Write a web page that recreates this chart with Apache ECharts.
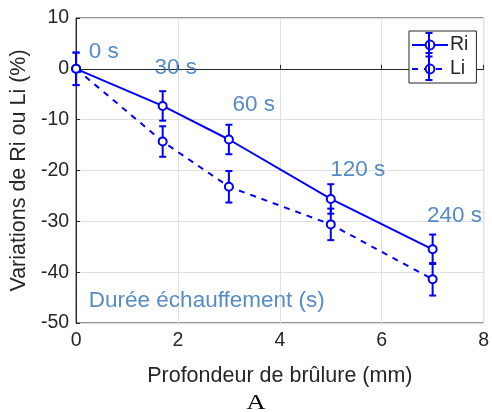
<!DOCTYPE html>
<html><head><meta charset="utf-8">
<script src="https://cdn.jsdelivr.net/npm/echarts@6/dist/echarts.min.js"></script>
<style>html,body{margin:0;padding:0;background:#fff}#c{width:492px;height:412px}</style>
</head><body><div id="c"></div>
<script>
const depth = [0, 1.7, 3, 5, 7];
const ri = [0, -7.3, -13.9, -25.6, -35.5];
const riErr = [3.2, 2.9, 2.9, 2.9, 2.9];
const li = [0, -14.3, -23.2, -30.6, -41.4];
const liErr = [3.2, 3.0, 3.1, 3.1, 3.2];
const timeLabels = ['0 s', '30 s', '60 s', '120 s', '240 s'];
const labelPos = [[0.25, 3.4], [1.54, 0.2], [3.07, -7.1], [4.99, -19.8], [6.89, -28.9]];
const noteText = 'Durée échauffement (s)';
const notePos = [0.25, -45.7];
const xTicks = [0, 2, 4, 6, 8];
const yTicks = [10, 0, -10, -20, -30, -40, -50];

const BLUE = '#0000ff';
const TXT = '#2a6fb6';
const FONT = 'Liberation Sans, Arial, sans-serif';

function errSeries(vals, errs) {
  return {
    type: 'custom',
    data: depth.map((x, i) => [x, vals[i] - errs[i], vals[i] + errs[i]]),
    renderItem: function (params, api) {
      const lo = api.coord([api.value(0), api.value(1)]);
      const hi = api.coord([api.value(0), api.value(2)]);
      const w = 3.5;
      const st = { stroke: BLUE, lineWidth: 2, fill: null };
      return { type: 'group', children: [
        { type: 'line', shape: { x1: lo[0], y1: lo[1], x2: hi[0], y2: hi[1] }, style: st },
        { type: 'line', shape: { x1: lo[0] - w, y1: lo[1], x2: lo[0] + w, y2: lo[1] }, style: st },
        { type: 'line', shape: { x1: hi[0] - w, y1: hi[1], x2: hi[0] + w, y2: hi[1] }, style: st }
      ]};
    },
    z: 3, silent: true
  };
}

const legSt = { stroke: BLUE, lineWidth: 2 };
function legLine(x1, y1, x2, y2) {
  return { type: 'line', z: 100, zlevel: 1, silent: true, shape: { x1: x1, y1: y1, x2: x2, y2: y2 }, style: legSt };
}
const LX = 429;
const chart = echarts.init(document.getElementById('c'), null, { renderer: 'canvas' });
chart.setOption({
  animation: false,
  textStyle: { fontFamily: FONT },
  grid: { left: 75, right: 6, top: 18, bottom: 89, show: true, borderColor: '#262626', borderWidth: 1 },
  xAxis: {
    type: 'value', min: 0, max: 8, interval: 2,
    name: 'Profondeur de brûlure (mm)', nameLocation: 'middle', nameGap: 42,
    nameTextStyle: { fontSize: 21.5, color: '#262626', fontFamily: FONT },
    axisLine: { lineStyle: { color: '#262626' } },
    axisTick: { inside: true, length: 4, lineStyle: { color: '#262626' } },
    axisLabel: { fontSize: 19.5, color: '#262626', margin: 8 },
    splitLine: { show: true, lineStyle: { color: '#e0e0e0' } }
  },
  yAxis: {
    type: 'value', min: -50, max: 10, interval: 10,
    name: 'Variations de Ri ou Li (%)', nameLocation: 'middle', nameGap: 41,
    nameTextStyle: { fontSize: 21.5, color: '#262626', fontFamily: FONT },
    axisLine: { lineStyle: { color: '#262626' } },
    axisTick: { inside: true, length: 4, lineStyle: { color: '#262626' } },
    axisLabel: { fontSize: 19.5, color: '#262626', margin: 7 },
    splitLine: { show: true, lineStyle: { color: '#e0e0e0' } }
  },
  legend: {
    left: 409, top: 31, orient: 'vertical', itemGap: 2,
    backgroundColor: '#fff', borderColor: '#262626', borderWidth: 1, padding: [3, 8, 3, 2],
    itemWidth: 36, itemHeight: 11,
    textStyle: { fontSize: 19.5, lineHeight: 22, color: '#262626', fontFamily: FONT, padding: [0, 0, 0, -3] },
    data: ['Ri', 'Li']
  },
  series: [
    errSeries(ri, riErr),
    errSeries(li, liErr),
    {
      name: 'Ri', type: 'line', data: depth.map((x, i) => [x, ri[i]]),
      lineStyle: { color: BLUE, width: 2 }, itemStyle: { color: BLUE, borderColor: BLUE, borderWidth: 2 },
      symbol: 'emptyCircle', symbolSize: 8, z: 4
    },
    {
      name: 'Li', type: 'line', data: depth.map((x, i) => [x, li[i]]),
      lineStyle: { color: BLUE, width: 2, type: [6, 6] }, itemStyle: { color: BLUE, borderColor: BLUE, borderWidth: 2 },
      symbol: 'emptyCircle', symbolSize: 8, z: 4
    },
    {
      type: 'scatter', symbolSize: 0, silent: true,
      data: labelPos.map((p, i) => ({ value: p, label: { formatter: timeLabels[i] } })).concat([{ value: notePos, label: { formatter: noteText } }]),
      label: { show: true, position: 'right', distance: 0, align: 'left', verticalAlign: 'middle', color: TXT, textBorderWidth: 0, fontSize: 22.5, fontFamily: FONT },
      z: 5
    }
  ],
  graphic: [
    { type: 'text', x: 256, y: 404, scaleX: 1.35, style: { text: 'A', fontSize: 20, fontFamily: 'Liberation Serif, Times New Roman, serif', fill: '#000', align: 'center', verticalAlign: 'middle' } },
    legLine(LX, 33, LX, 80),
    legLine(LX - 3.5, 33, LX + 3.5, 33),
    legLine(LX - 3.5, 80, LX + 3.5, 80),
    legLine(LX - 3.5, 53, LX + 3.5, 53),
    legLine(LX - 3.5, 56.5, LX + 3.5, 56.5)
  ]
});
</script></body></html>
